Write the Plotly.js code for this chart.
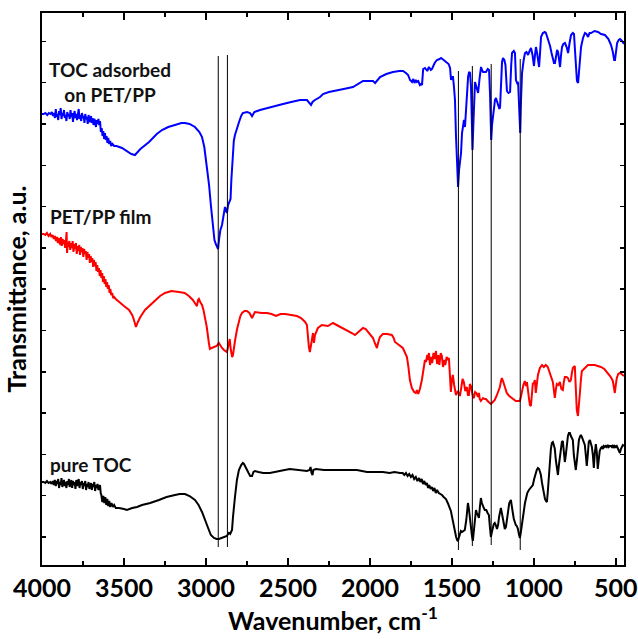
<!DOCTYPE html>
<html>
<head>
<meta charset="utf-8">
<script src="https://cdn.plot.ly/plotly-3.0.1.min.js"></script>
<style>
  html, body { margin: 0; padding: 0; background: #ffffff; }
  #chart { width: 638px; height: 639px; }
</style>
</head>
<body>
<div id="chart"></div>
<script>
// FTIR spectra, [wavenumber (cm-1), transmittance (a.u., offset per curve)]
const adsorbedSpectrum = [
  [4000,451],[3990,451],[3980,452],[3968,450],[3958,452],[3948,451],[3940,453],[3933,449],[3927,452],[3921,447],
  [3916,456],[3911,448],[3906,451],[3901,445],[3896,454],[3891,450],[3886,457],[3881,446],[3876,452],[3871,449],
  [3866,455],[3861,447],[3856,450],[3851,444],[3846,453],[3841,449],[3836,451],[3831,446],[3826,455],[3821,448],
  [3816,452],[3811,443],[3806,450],[3801,454],[3796,447],[3791,451],[3786,445],[3781,449],[3776,456],[3771,446],
  [3766,450],[3761,444],[3756,452],[3751,447],[3746,449],[3741,442],[3736,451],[3731,446],[3726,448],[3721,441],
  [3716,450],[3711,445],[3706,443],[3701,449],[3696,442],[3691,447],[3686,440],[3681,446],[3676,444],[3671,438],
  [3666,445],[3661,441],[3656,446],[3651,440],[3646,444],[3641,433],[3636,437],[3631,429],[3626,434],[3621,426],
  [3616,432],[3611,425],[3606,429],[3601,422],[3596,427],[3590,421],[3584,424],[3578,419],[3570,421],[3560,419],
  [3545,419],[3512,417],[3480,414],[3455,411],[3433,410],[3400,416],[3347,423],[3300,431],[3268,435],[3230,438],
  [3189,440],[3150,442],[3128,442],[3100,441],[3067,438],[3040,433],[3024,428],[3010,418],[3000,405],[2990,392],
  [2981,380],[2970,360],[2963,348],[2955,332],[2948,325],[2940,321],[2932,318],[2926,316],[2919,327],[2912,335],
  [2902,340],[2893,348],[2884,358],[2878,355],[2872,352],[2865,360],[2858,364],[2850,366],[2845,385],[2838,410],
  [2830,424],[2823,430],[2810,438],[2798,443],[2785,449],[2775,452],[2750,453],[2731,452],[2719,449],[2705,453],
  [2670,455],[2628,457],[2580,459],[2530,461],[2480,463],[2426,465],[2384,465],[2368,462],[2359,460],[2350,463],
  [2335,465],[2304,468],[2286,471],[2250,473],[2225,474],[2160,476],[2103,478],[2070,481],[2042,484],[2000,484],
  [1981,484],[1968,482],[1958,484],[1938,488],[1900,491],[1859,493],[1820,494],[1798,494],[1780,492],[1767,490],
  [1755,485],[1743,483],[1735,486],[1728,482],[1720,485],[1713,483],[1705,484],[1695,480],[1688,481],[1682,480],
  [1675,496],[1664,497],[1650,494],[1640,498],[1628,495],[1621,496],[1605,502],[1591,505],[1575,506],[1566,507],
  [1550,505],[1536,503],[1520,501],[1511,497],[1505,485],[1499,488],[1493,488],[1487,478],[1481,465],[1475,430],
  [1468,400],[1462,378],[1456,395],[1450,405],[1444,412],[1438,432],[1432,440],[1426,445],[1420,438],[1414,455],
  [1408,472],[1401,488],[1395,493],[1389,492],[1383,478],[1377,430],[1374,415],[1369,440],[1365,465],[1359,483],
  [1350,478],[1340,472],[1330,488],[1322,498],[1316,495],[1310,493],[1300,493],[1292,493],[1281,496],[1273,495],
  [1267,470],[1263,440],[1260,425],[1255,440],[1248,450],[1237,465],[1231,467],[1220,460],[1210,456],[1206,458],
  [1200,490],[1194,503],[1188,507],[1180,505],[1173,500],[1164,474],[1155,472],[1145,473],[1138,500],[1133,512],
  [1122,514],[1115,512],[1109,485],[1102,482],[1096,483],[1090,460],[1083,432],[1078,465],[1072,492],[1062,505],
  [1054,512],[1045,513],[1035,510],[1026,514],[1017,517],[1008,510],[999,499],[993,510],[987,518],[980,512],
  [968,498],[962,512],[956,528],[945,532],[933,533],[926,532],[915,527],[901,519],[892,512],[883,505],
  [877,502],[871,502],[865,508],[858,515],[852,513],[846,505],[840,498],[834,510],[828,518],[820,521],
  [810,522],[800,518],[791,512],[782,522],[773,530],[762,532],[755,531],[749,515],[743,498],[737,484],
  [730,482],[724,495],[718,512],[712,518],[700,527],[688,532],[679,531],[669,528],[660,532],[651,532],
  [630,534],[608,533],[590,531],[566,530],[545,526],[529,520],[518,513],[510,505],[505,505],[499,515],
  [492,522],[482,525],[474,526],[462,524],[456,523],[450,521]
];

const filmSpectrum = [
  [4000,331],[3990,331],[3980,330],[3970,332],[3960,329],[3950,331],[3942,328],[3935,330],[3928,326],[3921,329],
  [3915,324],[3909,328],[3903,322],[3898,327],[3893,323],[3888,320],[3884,328],[3879,319],[3874,326],[3869,321],
  [3864,325],[3859,317],[3854,324],[3850,333],[3847,312],[3843,323],[3838,318],[3833,324],[3828,315],[3823,322],
  [3818,317],[3813,324],[3808,313],[3803,321],[3798,316],[3793,322],[3788,311],[3783,319],[3778,314],[3773,320],
  [3768,310],[3763,318],[3758,313],[3753,317],[3748,308],[3743,316],[3738,311],[3733,314],[3728,305],[3723,313],
  [3718,307],[3713,311],[3708,302],[3703,309],[3698,303],[3693,307],[3688,298],[3683,305],[3678,299],[3673,303],
  [3668,294],[3663,300],[3658,293],[3653,297],[3648,289],[3643,295],[3638,287],[3633,292],[3628,283],[3623,289],
  [3618,281],[3613,286],[3608,278],[3603,283],[3598,276],[3593,280],[3588,272],[3583,276],[3578,270],[3572,272],
  [3566,267],[3560,268],[3550,266],[3530,263],[3500,259],[3469,255],[3450,250],[3439,245],[3427,238],[3415,243],
  [3400,248],[3372,255],[3340,260],[3311,265],[3280,269],[3250,272],[3210,274],[3165,273],[3130,272],[3104,269],
  [3080,265],[3060,260],[3055,259],[3048,265],[3043,266],[3035,263],[3024,260],[3015,255],[3006,247],[2995,238],
  [2982,222],[2976,216],[2965,217],[2951,218],[2935,219],[2921,222],[2912,219],[2902,217],[2890,215],[2880,214],
  [2872,213],[2865,218],[2860,224],[2855,226],[2848,215],[2840,208],[2835,210],[2829,218],[2823,224],[2810,236],
  [2799,243],[2790,249],[2780,252],[2765,254],[2750,254],[2735,252],[2719,247],[2710,251],[2701,253],[2660,252],
  [2628,252],[2600,251],[2573,249],[2545,251],[2518,251],[2480,250],[2445,249],[2420,247],[2408,245],[2395,243],
  [2384,240],[2378,226],[2372,218],[2366,213],[2360,220],[2353,230],[2347,232],[2341,222],[2335,230],[2317,237],
  [2293,240],[2256,239],[2225,242],[2180,238],[2140,235],[2110,232],[2091,230],[2070,233],[2042,237],[2025,236],
  [2012,233],[1995,230],[1981,227],[1970,222],[1963,218],[1957,217],[1950,222],[1939,228],[1921,231],[1895,231],
  [1866,230],[1855,227],[1847,223],[1825,220],[1810,218],[1799,217],[1785,212],[1774,208],[1765,198],[1756,185],
  [1744,177],[1730,173],[1720,172],[1713,175],[1705,171],[1695,176],[1683,185],[1675,195],[1664,205],[1658,203],
  [1650,210],[1646,205],[1640,212],[1633,200],[1626,208],[1620,202],[1612,212],[1604,206],[1597,214],[1590,201],
  [1583,210],[1576,200],[1568,212],[1561,209],[1554,198],[1547,205],[1540,200],[1532,208],[1524,205],[1518,207],
  [1512,190],[1506,173],[1500,185],[1494,190],[1486,180],[1480,173],[1475,170],[1463,174],[1451,169],[1442,178],
  [1435,186],[1427,183],[1418,174],[1408,178],[1402,170],[1396,170],[1390,181],[1384,179],[1377,172],[1371,168],
  [1366,167],[1358,173],[1350,172],[1341,168],[1335,172],[1330,166],[1323,164],[1310,167],[1300,166],[1292,166],
  [1276,163],[1262,161],[1250,163],[1238,165],[1225,170],[1215,174],[1207,178],[1200,184],[1195,187],[1188,184],
  [1177,178],[1165,172],[1150,169],[1130,166],[1110,164],[1097,164],[1085,164],[1079,168],[1073,173],[1064,180],
  [1055,184],[1048,179],[1042,183],[1036,177],[1030,167],[1024,160],[1018,159],[1012,170],[1006,182],[1000,181],
  [994,185],[988,172],[982,183],[975,190],[963,197],[950,200],[939,198],[927,200],[915,198],[902,192],
  [893,188],[884,183],[878,175],[872,167],[866,175],[860,181],[850,180],[841,183],[832,176],[823,175],
  [817,183],[811,188],[800,188],[792,187],[783,183],[774,185],[768,192],[762,197],[750,199],[744,173],
  [738,155],[731,149],[725,158],[719,172],[713,185],[707,194],[700,195],[689,197],[679,199],[670,200],
  [650,200],[628,200],[610,199],[591,198],[570,196],[549,192],[535,189],[524,186],[518,184],[512,178],
  [506,172],[500,180],[494,187],[485,191],[475,192],[465,191],[457,190],[450,189]
];

const pureSpectrum = [
  [4000,83],[3990,83],[3980,82],[3970,84],[3960,82],[3950,83],[3942,81],[3935,84],[3928,80],[3922,85],
  [3916,79],[3911,84],[3906,81],[3901,86],[3896,77],[3891,83],[3886,80],[3881,87],[3876,78],[3871,82],
  [3866,85],[3861,79],[3856,83],[3851,77],[3846,84],[3841,80],[3836,86],[3831,78],[3826,82],[3821,85],
  [3816,77],[3811,84],[3806,80],[3801,83],[3796,76],[3791,85],[3786,79],[3781,82],[3776,86],[3771,77],
  [3766,83],[3761,80],[3756,84],[3751,76],[3746,82],[3741,79],[3736,84],[3731,75],[3726,81],[3721,78],
  [3716,83],[3711,76],[3706,80],[3701,82],[3696,75],[3691,81],[3686,78],[3681,83],[3676,74],[3671,80],
  [3666,77],[3661,81],[3656,75],[3651,79],[3646,80],[3642,72],[3638,70],[3632,63],[3626,69],[3620,62],
  [3614,68],[3608,60],[3602,66],[3596,59],[3590,64],[3584,58],[3576,62],[3568,58],[3560,60],[3550,57],
  [3530,57],[3500,56],[3482,55],[3450,57],[3420,58],[3390,60],[3340,62],[3287,65],[3240,68],[3189,70],
  [3160,71],[3128,71],[3100,69],[3067,65],[3045,60],[3024,53],[3005,44],[2990,38],[2982,35],[2970,30],
  [2960,28],[2951,27],[2935,26],[2921,26],[2905,27],[2884,28],[2872,29],[2865,31],[2860,32],[2852,31],
  [2845,33],[2841,35],[2835,48],[2829,60],[2823,68],[2811,85],[2799,95],[2785,100],[2775,102],[2768,101],
  [2757,98],[2750,96],[2740,92],[2730,89],[2719,89],[2710,93],[2701,94],[2680,93],[2650,92],[2610,92],
  [2560,94],[2520,95],[2488,96],[2440,95],[2400,94],[2384,94],[2368,95],[2362,98],[2356,92],[2350,90],
  [2345,95],[2330,96],[2280,95],[2225,95],[2150,95],[2079,95],[2018,93],[1960,93],[1921,93],[1880,92],
  [1850,93],[1817,92],[1800,92],[1790,90],[1780,92],[1770,89],[1760,91],[1750,88],[1740,90],[1730,86],
  [1720,88],[1710,84],[1700,87],[1692,83],[1684,86],[1676,81],[1668,84],[1660,80],[1652,82],[1645,77],
  [1638,80],[1630,76],[1622,78],[1614,74],[1606,77],[1598,72],[1590,75],[1580,72],[1570,71],[1560,70],
  [1550,68],[1536,66],[1525,62],[1515,58],[1506,54],[1495,45],[1488,38],[1482,33],[1474,28],[1468,25],
  [1463,24],[1456,28],[1450,32],[1445,34],[1438,33],[1430,34],[1421,35],[1412,45],[1406,57],[1402,62],
  [1396,56],[1390,45],[1384,37],[1378,30],[1372,24],[1366,35],[1360,47],[1353,55],[1347,52],[1341,50],
  [1335,47],[1329,58],[1323,67],[1317,62],[1311,58],[1305,57],[1299,55],[1290,55],[1282,52],[1274,50],
  [1268,38],[1262,28],[1256,33],[1250,39],[1244,41],[1238,42],[1232,40],[1225,36],[1218,40],[1212,48],
  [1207,52],[1201,57],[1195,52],[1189,45],[1183,40],[1177,36],[1170,38],[1164,46],[1158,55],[1150,62],
  [1140,65],[1134,60],[1128,52],[1122,46],[1116,42],[1110,40],[1104,39],[1097,36],[1090,30],[1085,27],
  [1079,33],[1073,42],[1067,48],[1060,55],[1054,62],[1048,68],[1040,72],[1030,75],[1018,77],[1006,80],
  [998,86],[990,92],[982,95],[975,97],[968,96],[962,93],[957,90],[950,82],[944,76],[938,70],
  [932,66],[926,64],[920,63],[914,75],[908,90],[902,104],[896,116],[890,122],[884,123],[878,120],
  [872,116],[866,105],[860,95],[853,90],[847,100],[841,110],[835,118],[829,123],[823,124],[817,115],
  [811,103],[805,110],[798,124],[792,129],[786,132],[780,132],[774,129],[768,127],[762,125],[756,110],
  [750,98],[744,95],[737,105],[731,118],[725,125],[719,128],[713,130],[707,128],[700,124],[695,122],
  [689,120],[683,110],[677,99],[671,110],[665,123],[658,125],[652,121],[646,118],[640,110],[634,97],
  [628,112],[622,121],[616,113],[610,96],[604,105],[598,114],[591,117],[585,118],[579,116],[573,119],
  [567,118],[561,119],[555,118],[549,120],[543,118],[537,119],[530,119],[524,118],[518,120],[512,117],
  [506,119],[500,118],[494,119],[487,116],[481,113],[475,112],[469,116],[463,119],[457,120],[450,119]
];

// Band markers: [wavenumber, lower end, upper end]
const bandMarkers = [
  [2925, 18, 509],
  [2869, 18, 510],
  [1460, 15, 494],
  [1375, 19, 499],
  [1260, 20, 501],
  [1083, 15, 506]
];

// Curve labels: [text, wavenumber, height, anchor]
const curveLabels = [
  ['TOC adsorbed<br>on PET/PP', 3588, 483, 'center'],
  ['PET/PP film', 3966, 349, 'left'],
  ['pure TOC', 3966, 101, 'left']
];

const xTickVals = [4000, 3500, 3000, 2500, 2000, 1500, 1000, 500];
const xTickText = ['4000', '3500', '3000', '2500', '2000', '1500', '1000', '500'];

const boldFont = 'Lato, "Open Sans", "DejaVu Sans", sans-serif';

function spectrumTrace(points, color) {
  return {
    x: points.map(p => p[0]),
    y: points.map(p => p[1]),
    type: 'scatter',
    mode: 'lines',
    line: { color: color, width: 2 },
    hoverinfo: 'skip',
    showlegend: false
  };
}

const traces = [
  spectrumTrace(adsorbedSpectrum, '#0000ff'),
  spectrumTrace(filmSpectrum, '#ff0000'),
  spectrumTrace(pureSpectrum, '#000000')
];

const shapes = bandMarkers.map(b => ({
  type: 'line', xref: 'x', yref: 'y',
  x0: b[0], x1: b[0], y0: b[1], y1: b[2],
  line: { color: '#000000', width: 1 }
}));

const annotations = curveLabels.map(l => ({
  text: l[0], x: l[1], y: l[2], xref: 'x', yref: 'y',
  xanchor: l[3], yanchor: 'middle', align: 'center',
  showarrow: false,
  font: { family: boldFont, size: 19, color: '#111111', weight: 700 }
}));

const layout = {
  width: 638,
  height: 639,
  margin: { l: 42, r: 14, t: 13, b: 74 },
  paper_bgcolor: '#ffffff',
  plot_bgcolor: '#ffffff',
  xaxis: {
    range: [4000, 450],
    tickmode: 'array',
    tickvals: xTickVals,
    ticktext: xTickText,
    ticks: 'inside',
    ticklen: 7,
    tickwidth: 1.5,
    tickcolor: '#000000',
    minor: { dtick: 250, ticks: 'inside', ticklen: 4, tickwidth: 1.5, tickcolor: '#000000', showgrid: false },
    showline: true,
    linewidth: 2,
    linecolor: '#000000',
    mirror: 'ticks',
    showgrid: false,
    zeroline: false,
    tickfont: { family: boldFont, size: 25, color: '#000000', weight: 700 },
    title: {
      text: 'Wavenumber, cm<sup>-1</sup>',
      font: { family: boldFont, size: 25, color: '#000000', weight: 700 },
      standoff: 8
    }
  },
  yaxis: {
    range: [0, 552],
    tick0: 28,
    dtick: 41.3,
    ticks: 'inside',
    ticklen: 4,
    tickwidth: 1.5,
    tickcolor: '#000000',
    showticklabels: false,
    showline: true,
    linewidth: 2,
    linecolor: '#000000',
    mirror: 'ticks',
    showgrid: false,
    zeroline: false,
    title: {
      text: 'Transmittance, a.u.',
      font: { family: boldFont, size: 25, color: '#000000', weight: 700 },
      standoff: 6
    }
  },
  shapes: shapes,
  annotations: annotations
};

Plotly.newPlot('chart', traces, layout, { staticPlot: true, displayModeBar: false });
</script>
</body>
</html>
